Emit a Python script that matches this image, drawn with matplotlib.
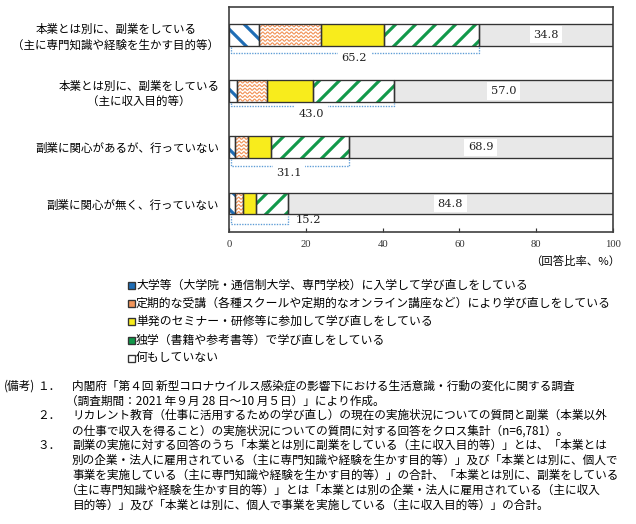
import numpy as np
import matplotlib
matplotlib.use('Agg')
import matplotlib.pyplot as plt
from matplotlib.patches import Rectangle

plt.rcParams['font.family'] = ['Noto Sans CJK JP', 'DejaVu Sans']
plt.rcParams['hatch.linewidth'] = 1.9

# データ（回答比率、%）
categories = ['本業とは別に、副業をしている\n（主に専門知識や経験を生かす目的等）',
              '本業とは別に、副業をしている\n（主に収入目的等）',
              '副業に関心があるが、行っていない',
              '副業に関心が無く、行っていない']
univ = [7.8, 1.9, 1.6, 1.5]
course = [16.1, 7.9, 3.2, 2.0]
seminar = [16.5, 12.1, 6.0, 3.4]
self_study = [24.8, 21.1, 20.3, 8.3]
nothing = [34.8, 57.0, 68.9, 84.8]
learning_total = [65.2, 43.0, 31.1, 15.2]
series_labels = ['大学等（大学院・通信制大学、専門学校）に入学して学び直しをしている',
                 '定期的な受講（各種スクールや定期的なオンライン講座など）により学び直しをしている',
                 '単発のセミナー・研修等に参加して学び直しをしている',
                 '独学（書籍や参考書等）で学び直しをしている',
                 '何もしていない']
xticks = [0, 20, 40, 60, 80, 100]

notes = [
    ('(備考)', '１．', '内閣府「第４回 新型コロナウイルス感染症の影響下における生活意識・行動の変化に関する調査'),
    ('', '', '（調査期間：2021 年９月 28 日～10 月５日）」により作成。'),
    ('', '２．', 'リカレント教育（仕事に活用するための学び直し）の現在の実施状況についての質問と副業（本業以外'),
    ('', '', 'の仕事で収入を得ること）の実施状況についての質問に対する回答をクロス集計（n=6,781）。'),
    ('', '３．', '副業の実施に対する回答のうち「本業とは別に副業をしている（主に収入目的等）」とは、「本業とは'),
    ('', '', '別の企業・法人に雇用されている（主に専門知識や経験を生かす目的等）」及び「本業とは別に、個人で'),
    ('', '', '事業を実施している（主に専門知識や経験を生かす目的等）」の合計、「本業とは別に、副業をしている'),
    ('', '', '（主に専門知識や経験を生かす目的等）」とは「本業とは別の企業・法人に雇用されている（主に収入'),
    ('', '', '目的等）」及び「本業とは別に、個人で事業を実施している（主に収入目的等）」の合計。'),
]

BLUE = '#1f6db5'
ORANGE = '#f2955a'
YELLOW = '#f8ec1c'
GREEN = '#12994a'
GRAY = '#e8e8e8'
EDGE = '#333333'
DOT = '#5b9bd5'

W, H = 636, 524
fig = plt.figure(figsize=(W / 120, H / 120), dpi=120)
ax = fig.add_axes([229.3 / W, 1 - 231.7 / H, 383.4 / W, 225 / H])

y = np.arange(len(categories))
bh = 0.385
series = [univ, course, seminar, self_study, nothing]
fills = [('white', BLUE, '\\\\'), ('white', None, None), (YELLOW, None, None),
         ('white', GREEN, '//'), (GRAY, None, None)]

left = np.zeros(len(categories))
starts = []
containers = []
for vals, (fc, hc, hatch) in zip(series, fills):
    vals = np.array(vals)
    starts.append(left.copy())
    if hatch:
        b = ax.barh(y, vals, left=left, height=bh, color=fc, edgecolor=hc,
                    hatch=hatch, linewidth=0, zorder=1)
    else:
        b = ax.barh(y, vals, left=left, height=bh, color=fc, linewidth=0, zorder=1)
    containers.append(b)
    ax.barh(y, vals, left=left, height=bh, color='none', edgecolor=EDGE,
            linewidth=0.8, zorder=3)
    left = left + vals

# 定期的な受講: 波線模様
for p in containers[1].patches:
    x0, w = p.get_x(), p.get_width()
    y0, h = p.get_y(), p.get_height()
    xs = np.linspace(x0, x0 + w, 300)
    nrow = 6
    for k in range(nrow):
        ys = y0 + (k + 0.5) * h / nrow + 0.018 * np.sin(2 * np.pi * (xs - x0) / 1.25)
        ln, = ax.plot(xs, ys, color=ORANGE, lw=0.7, zorder=2)
        ln.set_clip_path(p)

# 何もしていない の数値
for i, v in enumerate(nothing):
    ax.text(starts[4][i] + v / 2, y[i], f'{v:.1f}', ha='center', va='center',
            family='DejaVu Serif', fontsize=6.8, color='#222222', zorder=4,
            bbox=dict(facecolor='white', edgecolor='none', pad=2.2))

# 学び直し合計の括弧
line_off = [0.32, 0.26, 0.34, 0.37]
text_off = [0.41, 0.40, 0.45, 0.30]
for i, tot in enumerate(learning_total):
    yc = y[i] + line_off[i]
    yt = y[i] + 0.215
    ax.plot([0.5, 0.5, tot, tot], [yt, yc, yc, yt], color=DOT, lw=0.8,
            ls=(0, (1, 1)), zorder=3, clip_on=False)
    if i < len(learning_total) - 1:
        ax.text(tot / 2, y[i] + text_off[i], f'{tot:.1f}', ha='center', va='center',
                family='DejaVu Serif', fontsize=6.8, color='#222222', zorder=4,
                bbox=dict(facecolor='white', edgecolor='none', pad=2.2))
    else:
        ax.text(tot + 2, y[i] + text_off[i], f'{tot:.1f}', ha='left', va='center',
                family='DejaVu Serif', fontsize=6.8, color='#222222', zorder=4)

ax.set_xlim(0, 100)
ax.set_ylim(len(categories) - 0.5, -0.5)
ax.set_xticks(xticks)
ax.set_xticklabels([str(t) for t in xticks], family='Liberation Serif', fontsize=6.4)
ax.tick_params(axis='x', direction='in', length=2.5, width=0.7, pad=5, colors='#333333')
ax.set_yticks(y)
ax.set_yticklabels(categories, fontsize=6.9, multialignment='center')
ax.tick_params(axis='y', length=0, pad=6)
for s in ax.spines.values():
    s.set_color('#404040')
    s.set_linewidth(1.0)

fig.text(620 / W, 1 - 261.7 / H, '（回答比率、%）', ha='right', va='center', fontsize=6.8)

# 凡例
leg_colors = [BLUE, ORANGE, YELLOW, GREEN, 'white']
for i, (lab, c) in enumerate(zip(series_labels, leg_colors)):
    yy = 285 + 18.35 * i
    fig.patches.append(Rectangle(((131 - 3.5) / W, 1 - (yy + 3.5) / H), 7 / W, 7 / H,
                                 transform=fig.transFigure, facecolor=c,
                                 edgecolor=EDGE, linewidth=0.8))
    fig.text(136 / W, 1 - yy / H, lab, ha='left', va='center', fontsize=7.1)

# 備考
for i, (head, num, body) in enumerate(notes):
    yy = 1 - (386 + 14.9 * i) / H
    if head:
        fig.text(4 / W, yy, head, ha='left', va='center', fontsize=7.0)
    if num:
        fig.text(37 / W, yy, num, ha='left', va='center', fontsize=7.0)
    bx = 66 if body.startswith('（') else 72
    fig.text(bx / W, yy, body, ha='left', va='center', fontsize=7.0)

fig.savefig('out.png', dpi=120)
